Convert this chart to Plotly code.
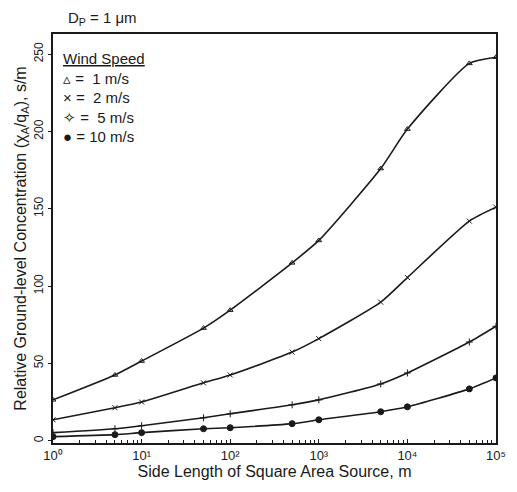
import plotly.graph_objects as go

side_length = [1, 5, 10, 50, 100, 500, 1000, 5000, 10000, 50000, 100000]
conc_1ms = [26.4, 42.5, 51.5, 72.8, 84.4, 115, 129.5, 176, 201.5, 244, 248]
conc_2ms = [13.5, 21.3, 25, 37.4, 42.5, 57.3, 66, 89.6, 105.5, 142, 151]
conc_5ms = [5.2, 7.7, 9.7, 14.8, 17.4, 23.2, 26.4, 36.7, 43.8, 63.8, 74]
conc_10ms = [2.6, 3.9, 5.2, 7.7, 8.4, 11, 13.5, 18.7, 21.9, 33.5, 40.6]

series_names = ["1 m/s", "2 m/s", "5 m/s", "10 m/s"]
x_tickvals = [1, 10, 100, 1000, 10000, 100000]
x_ticktext = ["10⁰", "10¹", "10²", "10³", "10⁴", "10⁵"]
y_tickvals = [0, 50, 100, 150, 200, 250]

FONT = "Liberation Sans, Arial, sans-serif"
INK = "#1a1a1a"

fig = go.Figure()
styles = [
    ("triangle-up-open", 5),
    ("x-thin-open", 5),
    ("cross-thin-open", 5),
    ("circle", 6),
]
for name, ys, (sym, sz) in zip(series_names, [conc_1ms, conc_2ms, conc_5ms, conc_10ms], styles):
    fig.add_trace(go.Scatter(
        x=side_length, y=ys, name=name, mode="lines+markers",
        line=dict(color=INK, width=1.6, shape="spline", smoothing=0.6),
        marker=dict(symbol=sym, size=sz, color=INK, line=dict(color=INK, width=1)),
        showlegend=False,
    ))

minor_x = [m * 10 ** d for d in range(0, 5) for m in range(2, 10)]

fig.update_xaxes(
    type="log", range=[0, 5],
    tickvals=x_tickvals, ticktext=x_ticktext,
    ticks="inside", ticklen=4, tickcolor=INK,
    minor=dict(tickvals=minor_x, ticks="inside", ticklen=3, tickcolor=INK),
    showline=True, linecolor=INK, linewidth=1.5, mirror=True,
    showgrid=False, zeroline=False,
    tickfont=dict(family=FONT, size=13, color=INK),
    title=dict(text="Side Length of Square Area Source, m",
               font=dict(family=FONT, size=16, color=INK), standoff=2),
)
fig.update_yaxes(
    range=[-1.5, 263],
    tickvals=y_tickvals, tickangle=-90,
    ticks="outside", ticklen=3, tickcolor=INK,
    showline=True, linecolor=INK, linewidth=1.5, mirror=True,
    showgrid=False, zeroline=False,
    tickfont=dict(family=FONT, size=12, color=INK),
    title=dict(text="Relative Ground-level Concentration (χ<sub>A</sub>/q<sub>A</sub>), s/m",
               font=dict(family=FONT, size=16, color=INK), standoff=2),
)

fig.add_annotation(
    xref="paper", yref="paper", x=0.018, y=0.965, xanchor="left", yanchor="top",
    align="left", showarrow=False,
    text="<u>Wind Speed</u><br>▵ =  1 m/s<br>× =  2 m/s<br>✧ =  5 m/s<br>● = 10 m/s",
    font=dict(family=FONT, size=15, color=INK),
)
fig.add_annotation(
    xref="paper", yref="paper", x=0.03, y=1.01, xanchor="left", yanchor="bottom",
    showarrow=False, text="D<sub>P</sub> = 1 μm",
    font=dict(family=FONT, size=15, color=INK),
)

# The page body adds an 8px margin, so the figure is sized to fit the 517x492 window.
fig.update_layout(
    width=509, height=484,
    margin=dict(l=39, r=11, t=26, b=49),
    paper_bgcolor="white", plot_bgcolor="white",
    font=dict(family=FONT, color=INK),
)

fig.write_html("out.html")
